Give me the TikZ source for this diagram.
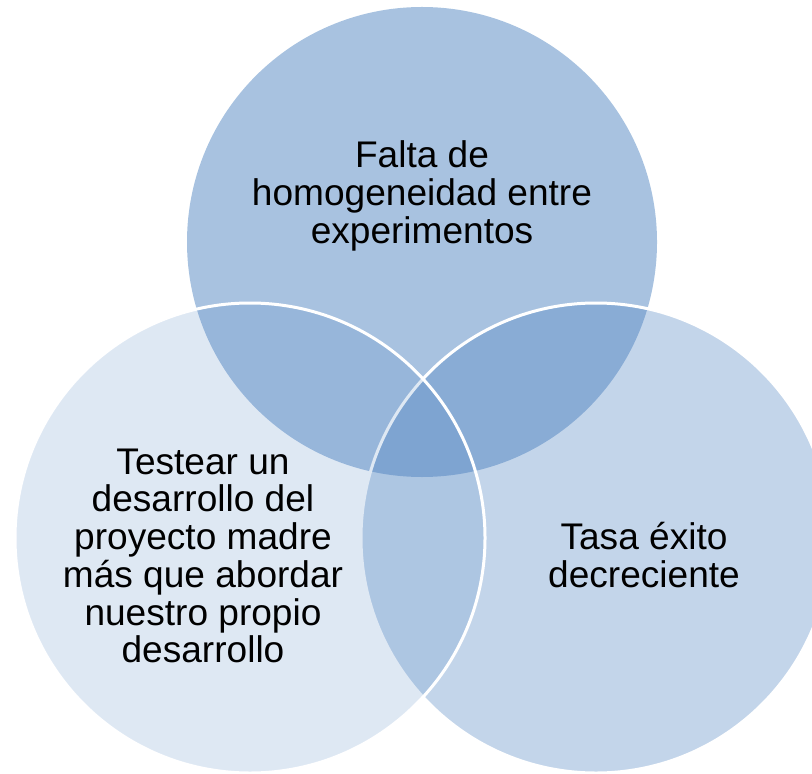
\documentclass[tikz,border=0pt]{standalone}
\usepackage{fontspec}
\setmainfont{Liberation Sans}
\usetikzlibrary{positioning}
\definecolor{vennblue}{HTML}{4A80BF}

\begin{document}
\begin{tikzpicture}[x=0.75pt,y=-0.75pt,
  venn/.style={circle,minimum size=352.5pt,inner sep=0pt,fill=vennblue,draw=white,line width=2.25pt},
  venntext/.style={align=center,font=\fontsize{27.8}{28.3}\selectfont,text=black}]
  \useasboundingbox (0,0) rectangle (812,773);

  % --- Circles ---
  \node[venn,draw=none,fill opacity=0.48] (top) at (422,242) {};
  \node[venn,fill opacity=0.33] (right) at (596,538) {};
  \node[venn,fill opacity=0.18] (left) at (250,538) {};

  % --- Texts ---
  \node[venntext] (toptext) at (422,196) {Falta de\\homogeneidad entre\\experimentos};
  \node[venntext] (lefttext) at (203,556) {Testear un\\desarrollo del\\proyecto madre\\más que abordar\\nuestro propio\\desarrollo};
  \node[venntext] (righttext) at (644,555) {Tasa éxito\\decreciente};
\end{tikzpicture}
\end{document}
